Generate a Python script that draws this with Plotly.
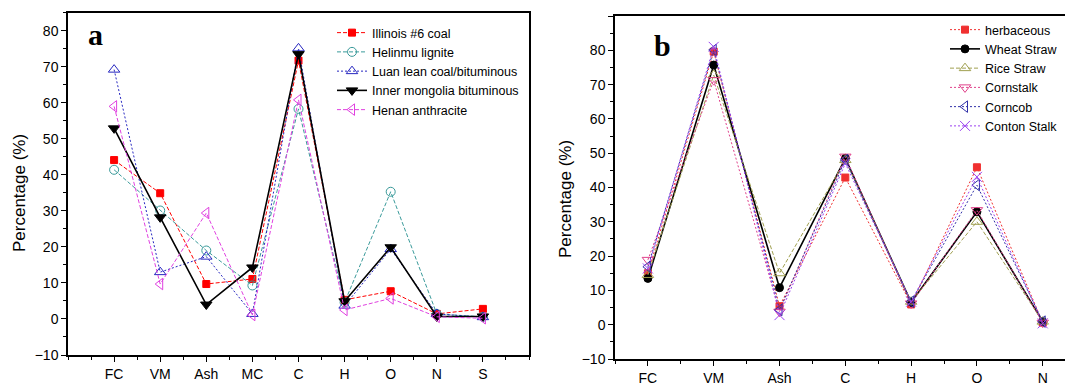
import plotly.graph_objects as go

# ---------- data: panel a (coals) ----------
cats_a = ["FC", "VM", "Ash", "MC", "C", "H", "O", "N", "S"]
illinois = [44.1, 34.9, 9.7, 11.1, 71.7, 5.3, 7.7, 1.4, 2.8]
helinmu = [41.4, 30.1, 19.0, 9.3, 58.3, 4.6, 35.3, 1.4, 0.6]
luan = [69.2, 13.0, 17.3, 1.4, 75.1, 3.7, 19.4, 1.4, 0.5]
inner_mongolia = [52.9, 28.2, 4.0, 14.3, 73.5, 4.9, 19.9, 0.7, 0.7]
henan = [59.0, 9.7, 29.4, 1.1, 60.8, 2.5, 5.7, 0.6, 0.2]

# ---------- data: panel b (biomass) ----------
cats_b = ["FC", "VM", "Ash", "C", "H", "O", "N"]
herbaceous = [15.0, 79.6, 5.4, 42.9, 5.9, 45.9, 0.6]
wheat_straw = [13.5, 75.7, 10.8, 48.5, 6.5, 32.9, 0.9]
rice_straw = [14.5, 72.8, 15.0, 48.0, 6.7, 30.0, 0.9]
cornstalk = [18.9, 71.3, 3.8, 49.0, 6.2, 33.4, 0.6]
corncob = [16.9, 80.1, 4.3, 48.0, 6.7, 40.7, 0.9]
conton_stalk = [16.4, 81.0, 2.8, 47.0, 6.7, 43.1, 0.4]

y_title = "Percentage (%)"

# page body has an 8px margin, so the figure is 8px smaller than the window
OFF = 8
W, H = 1073 - OFF, 385 - OFF
pos_a = list(range(1, len(cats_a) + 1))
pos_b = list(range(1, len(cats_b) + 1))

def px_x(p):  # screen px -> paper fraction
    return (p - OFF) / W

def px_y(p):
    return (H - (p - OFF)) / H

DASH = "4px,2px"
DOT = "2px,2px"

fig = go.Figure()

def add(x, y, name, color, dash, symbol, size, width, xa, ya, legend):
    fig.add_trace(go.Scatter(
        x=x, y=y, name=name, mode="lines+markers",
        line=dict(color=color, dash=dash, width=width),
        marker=dict(symbol=symbol, size=size, color=color,
                    line=dict(color=color, width=1)),
        xaxis=xa, yaxis=ya, legend=legend))

# panel a
add(pos_a, illinois, "Illinois #6 coal", "#FF0000", DASH, "square", 7, 1, "x", "y", "legend")
add(pos_a, helinmu, "Helinmu lignite", "#3A9A9A", DASH, "circle-open", 9, 1, "x", "y", "legend")
add(pos_a, luan, "Luan lean coal/bituminous", "#2626C0", DOT, "triangle-up-open", 10, 1, "x", "y", "legend")
add(pos_a, inner_mongolia, "Inner mongolia bituminous", "#000000", "solid", "triangle-down", 10, 1.6, "x", "y", "legend")
add(pos_a, henan, "Henan anthracite", "#E040E0", DASH, "triangle-left-open", 10, 1, "x", "y", "legend")

# panel b
add(pos_b, herbaceous, "herbaceous", "#F03030", DOT, "square", 7, 1, "x2", "y2", "legend2")
add(pos_b, wheat_straw, "Wheat Straw", "#000000", "solid", "circle", 8, 1.6, "x2", "y2", "legend2")
add(pos_b, rice_straw, "Rice Straw", "#A0A050", DASH, "triangle-up-open", 10, 1, "x2", "y2", "legend2")
add(pos_b, cornstalk, "Cornstalk", "#E0408A", DOT, "triangle-down-open", 10, 1, "x2", "y2", "legend2")
add(pos_b, corncob, "Corncob", "#3030A8", DOT, "triangle-left-open", 10, 1, "x2", "y2", "legend2")
add(pos_b, conton_stalk, "Conton Stalk", "#9A40F0", DOT, "x-thin-open", 10, 1, "x2", "y2", "legend2")

tickfont = dict(family="Liberation Sans, Arial", size=14, color="#000")
titlefont = dict(family="Liberation Sans, Arial", size=17, color="#000")
axis_common = dict(showline=True, linecolor="#000", linewidth=1.5, mirror=True,
                   ticks="outside", ticklen=5, tickwidth=1.2, tickcolor="#000",
                   showgrid=False, zeroline=False, tickfont=tickfont, automargin=False)

fig.update_layout(
    width=W, height=H, margin=dict(l=0, r=0, t=0, b=0, autoexpand=False),
    paper_bgcolor="white", plot_bgcolor="white",
    xaxis=dict(domain=[px_x(68), px_x(529)], range=[0, 10], tickmode="array",
               tickvals=pos_a, ticktext=cats_a,
               minor=dict(tickmode="linear", tick0=0, dtick=0.5, ticks="outside",
                          ticklen=3, tickcolor="#000"),
               anchor="y", **axis_common),
    yaxis=dict(domain=[px_y(355), px_y(12.7)], range=[-10, 85],
               tickmode="linear", tick0=0, dtick=10,
               minor=dict(tickmode="linear", tick0=0, dtick=5, ticks="outside",
                          ticklen=3, tickcolor="#000"),
               anchor="x", **axis_common),
    xaxis2=dict(domain=[px_x(615), 1.0], range=[0.5, 7.46], tickmode="array",
                tickvals=pos_b, ticktext=cats_b,
                minor=dict(tickmode="linear", tick0=0.5, dtick=0.5, ticks="outside",
                           ticklen=3, tickcolor="#000"),
                anchor="y2", **axis_common),
    yaxis2=dict(domain=[px_y(359), px_y(16)], range=[-10, 90],
                tickmode="linear", tick0=0, dtick=10,
                minor=dict(tickmode="linear", tick0=0, dtick=5, ticks="outside",
                           ticklen=3, tickcolor="#000"),
                anchor="x2", **axis_common),
    legend=dict(x=px_x(332), y=px_y(18), xanchor="left", yanchor="top",
                bgcolor="rgba(0,0,0,0)", font=dict(family="Liberation Sans, Arial", size=12.5, color="#000"),
                tracegroupgap=0),
    legend2=dict(x=px_x(945), y=px_y(15), xanchor="left", yanchor="top",
                 bgcolor="rgba(0,0,0,0)", font=dict(family="Liberation Sans, Arial", size=12.5, color="#000"),
                 tracegroupgap=0),
    annotations=[
        dict(text="<b>a</b>", x=px_x(95), y=px_y(35), xref="paper", yref="paper",
             xanchor="center", yanchor="middle", showarrow=False,
             font=dict(family="Liberation Serif, Times New Roman", size=30, color="#000")),
        dict(text="<b>b</b>", x=px_x(662), y=px_y(45), xref="paper", yref="paper",
             xanchor="center", yanchor="middle", showarrow=False,
             font=dict(family="Liberation Serif, Times New Roman", size=30, color="#000")),
        dict(text=y_title, x=px_x(19), y=px_y(193), xref="paper", yref="paper",
             xanchor="center", yanchor="middle", textangle=-90, showarrow=False,
             font=titlefont),
        dict(text=y_title, x=px_x(566), y=px_y(199), xref="paper", yref="paper",
             xanchor="center", yanchor="middle", textangle=-90, showarrow=False,
             font=titlefont),
    ],
)

fig.write_html("out.html")
